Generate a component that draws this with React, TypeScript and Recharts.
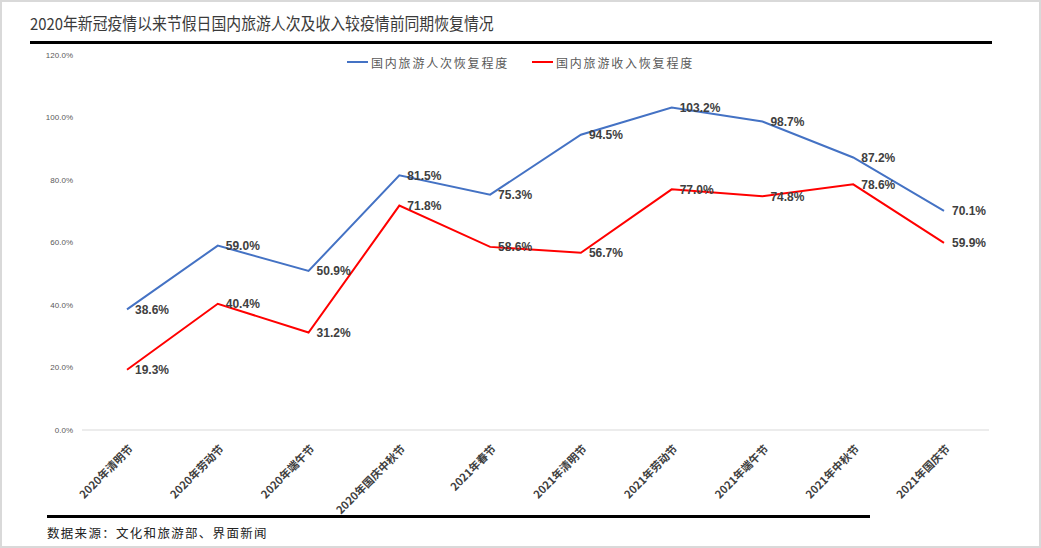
import { LineChart, Line, XAxis, YAxis, LabelList } from "recharts";

// 节假日名称
const categories = [
  "2020年清明节",
  "2020年劳动节",
  "2020年端午节",
  "2020年国庆中秋节",
  "2021年春节",
  "2021年清明节",
  "2021年劳动节",
  "2021年端午节",
  "2021年中秋节",
  "2021年国庆节",
];

// 恢复程度（%）
const tripsRecovery = [38.6, 59.0, 50.9, 81.5, 75.3, 94.5, 103.2, 98.7, 87.2, 70.1];
const revenueRecovery = [19.3, 40.4, 31.2, 71.8, 58.6, 56.7, 77.0, 74.8, 78.6, 59.9];

const yTicks = [0, 20, 40, 60, 80, 100, 120];

const tripsName = "国内旅游人次恢复程度";
const revenueName = "国内旅游收入恢复程度";

const data = categories.map((name, i) => ({
  name,
  trips: tripsRecovery[i],
  revenue: revenueRecovery[i],
}));

const CJK = '"Noto Sans CJK SC", "Liberation Sans", sans-serif';
const NUM = '"Liberation Sans", "Noto Sans CJK SC", sans-serif';

function XTick(props: any) {
  const { x, y, payload } = props;
  return (
    <g transform={`translate(${x + 4},${y + 9})`}>
      <text
        transform="rotate(-45)"
        textAnchor="end"
        dy="0.35em"
        fontSize={11}
        fontWeight="bold"
        fill="#404040"
        fontFamily={CJK}
      >
        {payload.value}
      </text>
    </g>
  );
}

function ValueLabel(props: any) {
  const { x, y, value } = props;
  return (
    <text
      x={x + 8}
      y={y}
      dy="0.36em"
      fontSize={12}
      fontWeight="bold"
      fill="#404040"
      fontFamily={NUM}
    >
      {Number(value).toFixed(1)}%
    </text>
  );
}

function LegendItem({ color, label, left }: { color: string; label: string; left: number }) {
  return (
    <div style={{ position: "absolute", left, top: 50, display: "flex", alignItems: "center", height: 20 }}>
      <div style={{ width: 21, height: 2, background: color, marginRight: 3 }} />
      <span style={{ fontSize: 12, color: "#595959", letterSpacing: 1.8, fontFamily: CJK, whiteSpace: "nowrap" }}>
        {label}
      </span>
    </div>
  );
}

export default function App() {
  return (
    <div
      style={{
        position: "absolute",
        left: 0,
        top: 0,
        width: 1041,
        height: 548,
        boxSizing: "border-box",
        border: "2px solid #d9d9d9",
        background: "#fff",
        overflow: "hidden",
      }}
    >
      <div
        style={{
          position: "absolute",
          left: 28,
          top: 9,
          fontSize: 16.5,
          color: "#3a3a3a",
          fontFamily: CJK,
          whiteSpace: "nowrap",
          lineHeight: "24px",
          transform: "scaleX(0.9)",
          transformOrigin: "left center",
        }}
      >
        2020年新冠疫情以来节假日国内旅游人次及收入较疫情前同期恢复情况
      </div>
      <div style={{ position: "absolute", left: 28, top: 39, width: 962, height: 3, background: "#000" }} />
      <LegendItem color="#4472C4" label={tripsName} left={345} />
      <LegendItem color="#FF0000" label={revenueName} left={530} />
      <div style={{ position: "absolute", left: 45, top: 513, width: 823, height: 2.5, background: "#000" }} />
      <div
        style={{
          position: "absolute",
          left: 45,
          top: 521,
          fontSize: 12.5,
          letterSpacing: 1.3,
          color: "#222",
          fontFamily: CJK,
          whiteSpace: "nowrap",
          lineHeight: "20px",
        }}
      >
        数据来源：文化和旅游部、界面新闻
      </div>
      <div style={{ position: "absolute", left: -2, top: -2 }}>
        <LineChart width={1041} height={548} data={data} margin={{ top: 55, right: 52, bottom: 0, left: 0 }}>
          <XAxis
            dataKey="name"
            interval={0}
            tickLine={false}
            axisLine={{ stroke: "#d9d9d9", strokeWidth: 1 }}
            tick={<XTick />}
            height={118}
            padding={{ left: 45, right: 45 }}
          />
          <YAxis
            width={82}
            domain={[0, 120]}
            ticks={yTicks}
            axisLine={false}
            tickLine={false}
            tickMargin={3}
            tick={{ fontSize: 8, fill: "#595959", fontFamily: NUM }}
            tickFormatter={(v: number) => `${v.toFixed(1)}%`}
          />
          <Line
            type="linear"
            dataKey="trips"
            name={tripsName}
            stroke="#4472C4"
            strokeWidth={2}
            dot={false}
            isAnimationActive={false}
          >
            <LabelList dataKey="trips" content={<ValueLabel />} />
          </Line>
          <Line
            type="linear"
            dataKey="revenue"
            name={revenueName}
            stroke="#FF0000"
            strokeWidth={2}
            dot={false}
            isAnimationActive={false}
          >
            <LabelList dataKey="revenue" content={<ValueLabel />} />
          </Line>
        </LineChart>
      </div>
    </div>
  );
}
